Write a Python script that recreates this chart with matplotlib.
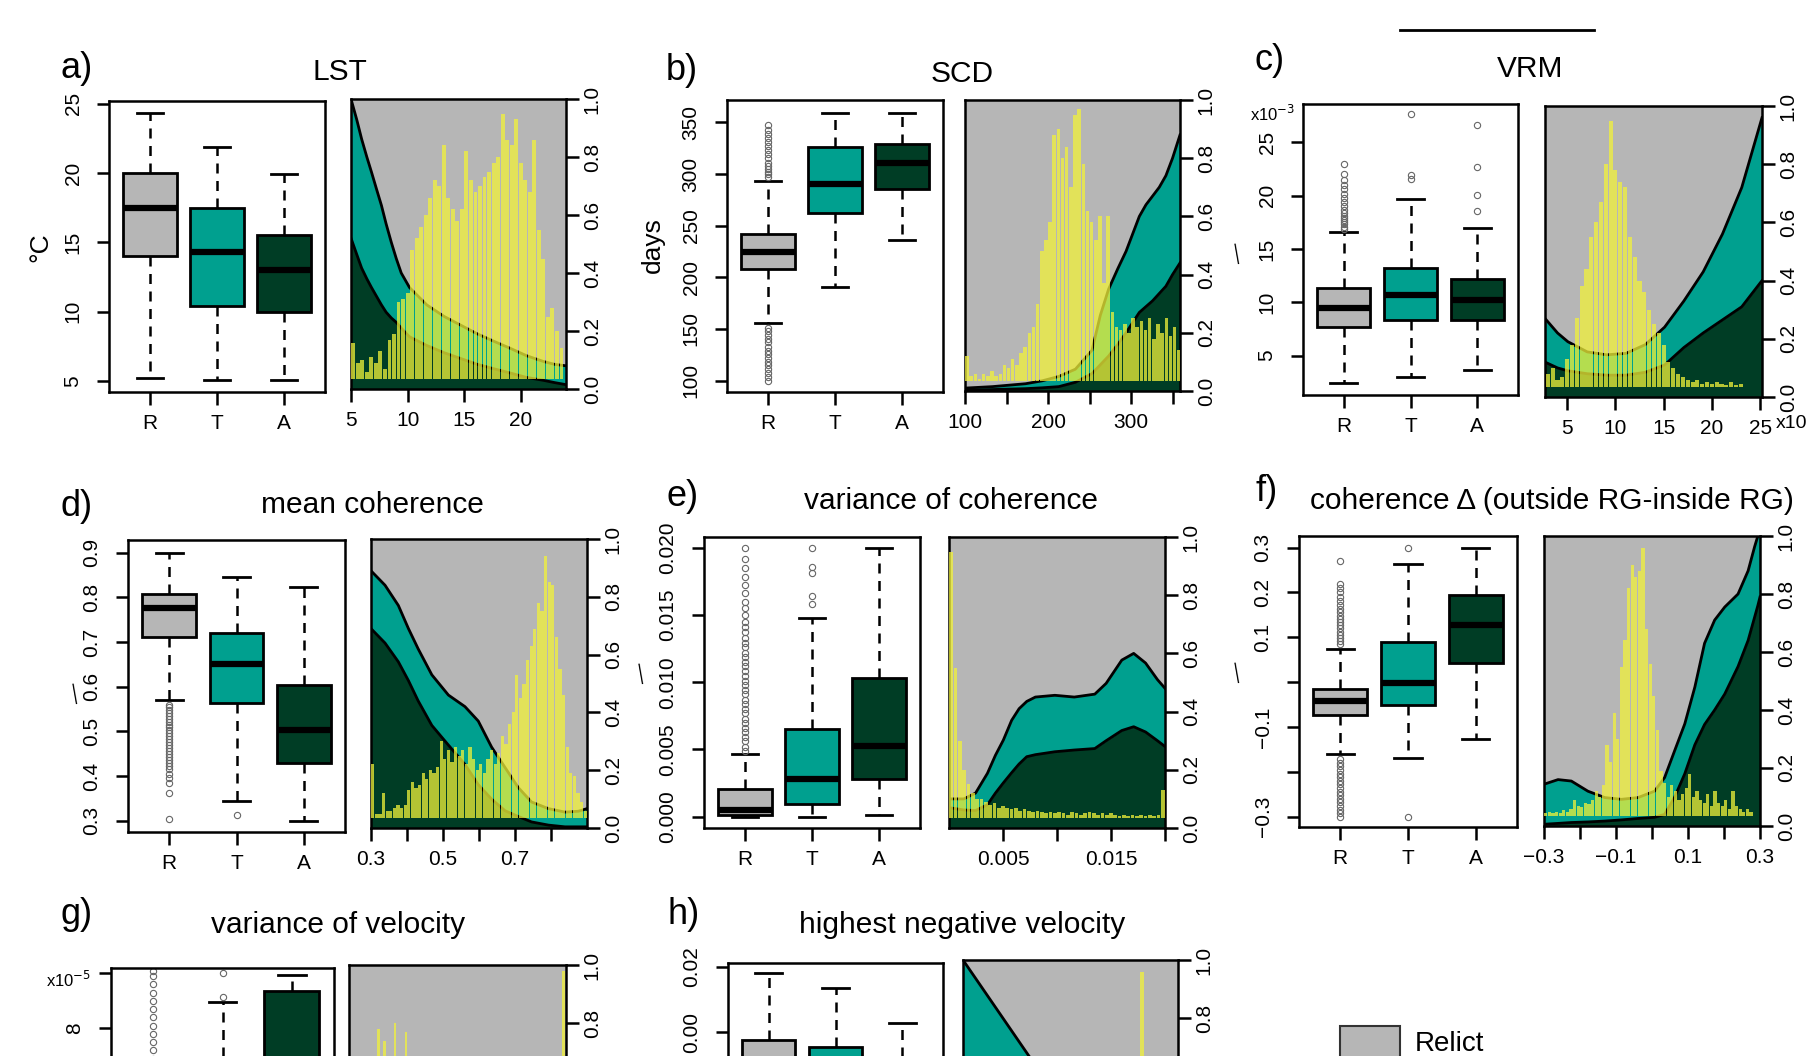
import numpy as np
import matplotlib
matplotlib.use('Agg')
import matplotlib.pyplot as plt
from matplotlib.patches import Rectangle
from matplotlib.lines import Line2D

plt.rcParams['font.family'] = ['Liberation Sans', 'DejaVu Sans']

# ---------------- data ----------------
GROUPS = ['R', 'T', 'A']

# box stats: [lower whisker, Q1, median, Q3, upper whisker] for R, T, A
lst_box = [[5.2, 14.0, 17.5, 20.0, 24.3], [5.1, 10.4, 14.3, 17.5, 21.9], [5.1, 10.0, 13.0, 15.5, 19.9]]
lst_out = [[], [], []]
scd_box = [[155.6, 207.8, 224.3, 242.3, 293.5], [190.4, 262.0, 290.3, 326.4, 358.7], [236.2, 285.5, 310.4, 329.0, 358.7]]
scd_out = [[100, 104, 107, 111, 115, 118, 122, 126, 129, 133, 137, 140, 144, 148, 151,
            297, 300, 302, 305, 308, 311, 315, 319, 323, 327, 331, 335, 339, 343, 347], [], []]
vrm_box = [[2.4, 7.7, 9.5, 11.3, 16.6], [3.0, 8.3, 10.7, 13.2, 19.7], [3.6, 8.3, 10.2, 12.2, 17.0]]
vrm_out = [[16.9, 17.1, 17.3, 17.5, 17.7, 17.9, 18.1, 18.4, 18.7, 19.0, 19.4, 19.8, 20.2, 20.6, 21.0, 21.5, 22.0, 23.0],
           [21.6, 21.9, 27.7], [18.6, 20.1, 22.7, 26.6]]
mcoh_box = [[0.57, 0.711, 0.775, 0.807, 0.9], [0.344, 0.563, 0.65, 0.721, 0.845], [0.3, 0.429, 0.502, 0.603, 0.823]]
mcoh_out = [[0.560, 0.554, 0.548, 0.541, 0.535, 0.528, 0.522, 0.515, 0.509, 0.502, 0.496, 0.489, 0.483, 0.476,
             0.470, 0.463, 0.457, 0.450, 0.443, 0.436, 0.430, 0.422, 0.415, 0.405, 0.396, 0.385, 0.362, 0.303],
            [0.312], []]
vcoh_box = [[0.0, 0.00013, 0.0005, 0.00204, 0.00466], [0.0, 0.00092, 0.00278, 0.00654, 0.01474],
            [0.0001, 0.00278, 0.00525, 0.01028, 0.020]]
vcoh_out = [[0.0049, 0.0052, 0.0056, 0.0059, 0.0063, 0.0066, 0.0070, 0.0073, 0.0077, 0.0080, 0.0084, 0.0087,
             0.0091, 0.0094, 0.0098, 0.0101, 0.0105, 0.0108, 0.0112, 0.0115, 0.0119, 0.0122, 0.0126, 0.0129,
             0.0133, 0.0137, 0.0141, 0.0145, 0.0150, 0.0155, 0.0160, 0.0166, 0.0172, 0.0178, 0.0185, 0.0192, 0.0200],
            [0.0158, 0.0164, 0.0181, 0.0186, 0.0200], []]
dcoh_box = [[-0.16, -0.073, -0.041, -0.015, 0.074], [-0.169, -0.052, -0.001, 0.0885, 0.263], [-0.126, 0.043, 0.128, 0.195, 0.30]]
dcoh_out = [[0.085, 0.092, 0.099, 0.106, 0.113, 0.120, 0.127, 0.134, 0.141, 0.148, 0.156, 0.164, 0.172, 0.181,
             0.190, 0.200, 0.210, 0.220, 0.270, -0.172, -0.180, -0.188, -0.196, -0.204, -0.212, -0.220, -0.228,
             -0.236, -0.244, -0.252, -0.260, -0.268, -0.276, -0.284, -0.292, -0.300],
            [0.300, -0.300], []]
vvel_box = [[0.0, 0.3, 0.8, 1.8, 4.0], [0.0, 2.0, 3.5, 5.5, 8.95], [0.5, 3.0, 5.5, 9.35, 9.93]]
vvel_out = [[5.5, 6.0, 6.3, 6.6, 6.9, 7.2, 7.5, 7.8, 8.1, 8.4, 8.7, 9.0, 9.3, 9.6, 9.9, 10.1], [9.16, 10.0], []]
hvel_box = [[-0.05, -0.02, -0.01, -0.0025, 0.018], [-0.055, -0.022, -0.012, -0.0046, 0.0135],
            [-0.06, -0.03, -0.02, -0.012, 0.0028]]
hvel_out = [[], [], []]

# conditional density: x grid, upper edge of active (A) and of transitional+active (T)
lst_x = [5.0, 5.5, 5.94, 6.4, 6.81, 7.25, 7.69, 8.1, 8.56, 9.0, 9.44, 10.17, 11.7, 13.24, 14.7, 16.17,
         17.6, 19.09, 20.5, 22.0, 23.0, 24.0]
lst_t = [1.0, 0.93, 0.862, 0.80, 0.748, 0.69, 0.633, 0.57, 0.506, 0.45, 0.40, 0.35, 0.29, 0.25, 0.22, 0.19,
         0.165, 0.14, 0.115, 0.095, 0.085, 0.08]
lst_a = [0.52, 0.465, 0.417, 0.38, 0.35, 0.32, 0.29, 0.265, 0.245, 0.23, 0.21, 0.18, 0.15, 0.125, 0.105, 0.085,
         0.07, 0.055, 0.04, 0.03, 0.022, 0.015]
scd_x = [100, 133, 173, 193, 213, 233, 253, 263, 273, 284, 294, 302, 310, 318, 326, 334, 342, 350, 359]
scd_t = [0.01, 0.015, 0.025, 0.035, 0.05, 0.075, 0.14, 0.26, 0.35, 0.42, 0.48, 0.54, 0.60, 0.64, 0.67, 0.70,
         0.74, 0.80, 0.88]
scd_a = [0.003, 0.005, 0.008, 0.011, 0.015, 0.03, 0.06, 0.09, 0.12, 0.16, 0.20, 0.235, 0.27, 0.29, 0.31, 0.335,
         0.36, 0.40, 0.44]
vrm_x = [2.7, 4.0, 5.07, 7.08, 9.09, 11.1, 13.1, 15.1, 17.1, 19.1, 21.1, 23.1, 25.2]
vrm_t = [0.27, 0.22, 0.19, 0.155, 0.145, 0.15, 0.18, 0.24, 0.33, 0.43, 0.56, 0.72, 0.96]
vrm_a = [0.12, 0.10, 0.09, 0.08, 0.075, 0.075, 0.085, 0.11, 0.17, 0.22, 0.265, 0.31, 0.40]
mcoh_x = [0.3, 0.339, 0.376, 0.404, 0.431, 0.469, 0.515, 0.561, 0.598, 0.635, 0.672, 0.709, 0.746, 0.793,
          0.839, 0.876, 0.9]
mcoh_t = [0.89, 0.84, 0.77, 0.69, 0.62, 0.53, 0.46, 0.42, 0.37, 0.28, 0.21, 0.14, 0.09, 0.067, 0.055, 0.058, 0.067]
mcoh_a = [0.69, 0.64, 0.575, 0.51, 0.44, 0.355, 0.287, 0.22, 0.15, 0.10, 0.06, 0.04, 0.021, 0.01, 0.004, 0.004, 0.004]
vcoh_x = [0.0, 0.00137, 0.00246, 0.00356, 0.0043, 0.00503, 0.0058, 0.00649, 0.0072, 0.0080, 0.0098, 0.0116,
          0.0135, 0.01455, 0.0160, 0.0171, 0.0182, 0.0193, 0.0200]
vcoh_t = [0.10, 0.10, 0.12, 0.188, 0.25, 0.302, 0.37, 0.41, 0.435, 0.45, 0.456, 0.45, 0.46, 0.497, 0.577, 0.60,
          0.567, 0.51, 0.48]
vcoh_a = [0.07, 0.062, 0.06, 0.08, 0.12, 0.155, 0.19, 0.22, 0.245, 0.252, 0.262, 0.268, 0.273, 0.30, 0.335,
          0.348, 0.33, 0.30, 0.28]
dcoh_x = [-0.3, -0.261, -0.224, -0.178, -0.131, -0.085, -0.039, 0.007, 0.035, 0.063, 0.091, 0.119, 0.146,
          0.174, 0.202, 0.239, 0.267, 0.285, 0.294, 0.3]
dcoh_t = [0.144, 0.16, 0.155, 0.12, 0.098, 0.092, 0.098, 0.12, 0.167, 0.26, 0.352, 0.479, 0.63, 0.71, 0.755,
          0.80, 0.88, 0.963, 1.0, 1.0]
dcoh_a = [0.006, 0.009, 0.012, 0.014, 0.017, 0.021, 0.026, 0.03, 0.04, 0.10, 0.18, 0.28, 0.35, 0.40, 0.455,
          0.55, 0.64, 0.72, 0.76, 0.79]
vvel_x = [0.0, 5.0, 10.0]
vvel_t = [0.45, 0.40, 0.50]
vvel_a = [0.25, 0.20, 0.30]
hvel_x = [-0.068, -0.0407, -0.02, 0.0, 0.021]
hvel_t = [1.0, 0.67, 0.45, 0.30, 0.25]
hvel_a = [0.5, 0.3, 0.2, 0.12, 0.1]

# histograms of the whole area: (first bin edge, bin width, bar tops)
lst_hist = (5.0, 0.4, [0.16, 0.09, 0.10, 0.06, 0.11, 0.09, 0.13, 0.07, 0.17, 0.19, 0.30, 0.31, 0.33, 0.48, 0.52,
                       0.56, 0.60, 0.66, 0.72, 0.70, 0.84, 0.66, 0.62, 0.58, 0.62, 0.82, 0.72, 0.68, 0.70, 0.73,
                       0.75, 0.78, 0.80, 0.95, 0.86, 0.84, 0.93, 0.78, 0.72, 0.68, 0.86, 0.55, 0.45, 0.25, 0.28,
                       0.20, 0.14])
scd_hist = (100, 5, [0.12, 0.05, 0.06, 0.04, 0.06, 0.05, 0.07, 0.05, 0.06, 0.09, 0.08, 0.11, 0.09, 0.13, 0.15,
                     0.20, 0.22, 0.30, 0.48, 0.52, 0.58, 0.88, 0.90, 0.80, 0.84, 0.70, 0.95, 0.97, 0.78, 0.62,
                     0.58, 0.52, 0.60, 0.37, 0.60, 0.27, 0.22, 0.21, 0.23, 0.20, 0.25, 0.22, 0.24, 0.21, 0.25,
                     0.18, 0.23, 0.20, 0.25, 0.19, 0.22, 0.14])
vrm_hist = (2.75, 0.5, [0.08, 0.10, 0.06, 0.07, 0.13, 0.18, 0.27, 0.38, 0.44, 0.55, 0.60, 0.67, 0.80, 0.95, 0.78,
                        0.74, 0.72, 0.55, 0.48, 0.40, 0.36, 0.30, 0.25, 0.22, 0.18, 0.12, 0.10, 0.08, 0.07, 0.06,
                        0.05, 0.06, 0.045, 0.05, 0.045, 0.05, 0.045, 0.04, 0.05, 0.04, 0.045])
mcoh_hist = (0.3, 0.01, [0.22, 0.05, 0.05, 0.12, 0.06, 0.06, 0.07, 0.08, 0.07, 0.08, 0.13, 0.16, 0.14, 0.15,
                         0.19, 0.17, 0.20, 0.19, 0.21, 0.30, 0.24, 0.27, 0.23, 0.28, 0.25, 0.27, 0.22, 0.28, 0.24,
                         0.20, 0.22, 0.19, 0.24, 0.27, 0.22, 0.26, 0.32, 0.29, 0.36, 0.40, 0.53, 0.45, 0.50, 0.58,
                         0.63, 0.69, 0.78, 0.75, 0.94, 0.85, 0.84, 0.66, 0.55, 0.46, 0.28, 0.19, 0.18, 0.12, 0.09,
                         0.06])
vcoh_hist = (0.0, 0.0004, [0.95, 0.55, 0.30, 0.20, 0.15, 0.12, 0.10, 0.10, 0.09, 0.08, 0.085, 0.07, 0.075, 0.07,
                           0.065, 0.07, 0.06, 0.065, 0.06, 0.055, 0.06, 0.055, 0.05, 0.055, 0.05, 0.055, 0.05,
                           0.045, 0.055, 0.05, 0.045, 0.05, 0.055, 0.05, 0.045, 0.05, 0.045, 0.05, 0.045, 0.04,
                           0.045, 0.04, 0.045, 0.04, 0.045, 0.04, 0.045, 0.04, 0.045, 0.13])
dcoh_hist = (-0.3, 0.01, [0.045, 0.05, 0.045, 0.05, 0.045, 0.055, 0.05, 0.06, 0.09, 0.07, 0.065, 0.08, 0.075,
                          0.09, 0.12, 0.10, 0.14, 0.28, 0.22, 0.39, 0.30, 0.55, 0.64, 0.82, 0.90, 0.86, 0.88,
                          0.96, 0.68, 0.56, 0.45, 0.33, 0.19, 0.15, 0.10, 0.14, 0.12, 0.09, 0.11, 0.13, 0.18,
                          0.10, 0.12, 0.09, 0.08, 0.11, 0.07, 0.12, 0.08, 0.07, 0.09, 0.06, 0.12, 0.07, 0.06,
                          0.05, 0.06, 0.05, 0.03, 0.03])
vvel_hist = (0.0, 0.25, [0.30, 0.45, 0.55, 0.60, 0.62, 0.78, 0.74, 0.66, 0.80, 0.65, 0.77, 0.55, 0.45, 0.38,
                         0.30, 0.25, 0.22, 0.18, 0.15, 0.13, 0.12, 0.10, 0.09, 0.08, 0.08, 0.07, 0.07, 0.06, 0.06,
                         0.06, 0.05, 0.05, 0.05, 0.05, 0.05, 0.05, 0.05, 0.05, 0.05, 0.98])
hvel_hist = (-0.068, 0.004, [0.05, 0.05, 0.06, 0.05, 0.06, 0.07, 0.06, 0.08, 0.09, 0.10, 0.12, 0.15, 0.20, 0.28,
                             0.40, 0.50, 0.55, 0.60, 0.96, 0.45, 0.20, 0.10])

# ---------------- style ----------------
W, H = 1807, 1056
GRAY = '#b6b6b6'
TEAL = '#00a08f'
DARK = '#003d25'
YELLOW = '#f2f23a'
BOX_COLORS = [GRAY, TEAL, DARK]
BASE = 0.035
MINUS = '\u2212'
DENS_TICKS = [0, 0.2, 0.4, 0.6, 0.8, 1.0]
DENS_LABELS = ['0.0', '0.2', '0.4', '0.6', '0.8', '1.0']

fig = plt.figure(figsize=(W / 100, H / 100), dpi=100)


def px_axes(left, top, right, bottom):
    return fig.add_axes([left / W, 1 - bottom / H, (right - left) / W, (bottom - top) / H])


def px_text(x, y, s, **kw):
    fig.text(x / W, 1 - y / H, s, **kw)


def style_axes(ax):
    for sp in ax.spines.values():
        sp.set_linewidth(1.8)
    ax.tick_params(direction='out', length=9, width=1.8, labelsize=15, pad=7)


def draw_box(ax, stats, fliers, ylim, yticks, yticklabels, xlabels=GROUPS):
    bxp_stats = []
    for name, s, f in zip(xlabels, stats, fliers):
        bxp_stats.append(dict(label=name, whislo=s[0], q1=s[1], med=s[2], q3=s[3], whishi=s[4], fliers=f))
    bp = ax.bxp(bxp_stats, positions=[1, 2, 3], widths=0.8, patch_artist=True,
                boxprops=dict(linewidth=2, edgecolor='black'),
                medianprops=dict(color='black', linewidth=4.5, solid_capstyle='butt'),
                whiskerprops=dict(color='black', linewidth=1.8, linestyle=(0, (4, 3))),
                capprops=dict(color='black', linewidth=2),
                flierprops=dict(marker='o', markersize=4.5, markerfacecolor='none',
                                markeredgecolor='#666666', markeredgewidth=0.8))
    for patch, c in zip(bp['boxes'], BOX_COLORS):
        patch.set_facecolor(c)
    ax.set_xlim(0.39, 3.61)
    ax.set_ylim(*ylim)
    ax.set_yticks(yticks, yticklabels)
    style_axes(ax)
    ax.tick_params(axis='y', labelrotation=90, pad=10)
    for lbl in ax.get_yticklabels():
        lbl.set_va('center')


def draw_density(ax, x, act, trans, hist, xlim, xticks, xticklabels, ylabels=DENS_LABELS, rwidth=0.85):
    x = np.array(x)
    act = np.array(act)
    trans = np.array(trans)
    ax.fill_between(x, 0, act, color=DARK, lw=0)
    ax.fill_between(x, act, trans, color=TEAL, lw=0)
    ax.fill_between(x, trans, 1, color=GRAY, lw=0)
    ax.plot(x, act, color='black', lw=2)
    ax.plot(x, trans, color='black', lw=2)
    left, width, tops = hist
    tops = np.array(tops)
    centers = left + width * (np.arange(len(tops)) + 0.5)
    ax.bar(centers, np.clip(tops - BASE, 0, None), bottom=BASE, width=width * rwidth,
           color=YELLOW, alpha=0.75, lw=0, zorder=3)
    ax.set_xlim(*xlim)
    ax.set_ylim(0, 1)
    ax.set_xticks(xticks, xticklabels)
    ax.yaxis.tick_right()
    ax.set_yticks(DENS_TICKS, ylabels)
    style_axes(ax)
    ax.tick_params(axis='y', labelrotation=90, pad=3)
    for lbl in ax.get_yticklabels():
        lbl.set_va('center')


# ---------------- row 1 ----------------
ax = px_axes(109, 101, 325, 392)
draw_box(ax, lst_box, lst_out, (4.2, 25.2), [5, 10, 15, 20, 25], ['5', '10', '15', '20', '25'])
ax = px_axes(351, 99, 566, 389)
draw_density(ax, lst_x, lst_a, lst_t, lst_hist, (5, 24), [5, 10, 15, 20], ['5', '10', '15', '20'])

ax = px_axes(727, 100, 943, 392)
draw_box(ax, scd_box, scd_out, (89, 371.6), [100, 150, 200, 250, 300, 350],
         ['100', '150', '200', '250', '300', '350'])
ax = px_axes(965, 100, 1180, 391)
draw_density(ax, scd_x, scd_a, scd_t, scd_hist, (100, 359), [100, 150, 200, 250, 300, 350],
             ['100', '', '200', '', '300', ''])

ax = px_axes(1303, 104, 1518, 395)
draw_box(ax, vrm_box, vrm_out, (1.3, 28.6), [5, 10, 15, 20, 25], ['5', '10', '15', '20', '25'])
ax = px_axes(1545, 106, 1762, 397)
draw_density(ax, vrm_x, vrm_a, vrm_t, vrm_hist, (2.7, 25.2), [5, 10, 15, 20, 25],
             ['5', '10', '15', '20', '25'])

# ---------------- row 2 ----------------
ax = px_axes(128, 540, 345, 832)
draw_box(ax, mcoh_box, mcoh_out, (0.275, 0.928), [0.3, 0.4, 0.5, 0.6, 0.7, 0.8, 0.9],
         ['0.3', '0.4', '0.5', '0.6', '0.7', '0.8', '0.9'])
ax = px_axes(371, 539, 587, 828)
draw_density(ax, mcoh_x, mcoh_a, mcoh_t, mcoh_hist, (0.3, 0.9), [0.3, 0.4, 0.5, 0.6, 0.7, 0.8],
             ['0.3', '', '0.5', '', '0.7', ''])

ax = px_axes(704, 537, 920, 828)
draw_box(ax, vcoh_box, vcoh_out, (-0.00084, 0.0208), [0, 0.005, 0.01, 0.015, 0.02],
         ['0.000', '0.005', '0.010', '0.015', '0.020'])
ax = px_axes(949, 537, 1165, 828)
draw_density(ax, vcoh_x, vcoh_a, vcoh_t, vcoh_hist, (0, 0.02), [0.005, 0.01, 0.015, 0.02],
             ['0.005', '', '0.015', ''])

ax = px_axes(1299, 536, 1517, 827)
draw_box(ax, dcoh_box, dcoh_out, (-0.323, 0.326), [-0.3, -0.2, -0.1, 0, 0.1, 0.2, 0.3],
         [MINUS + '0.3', '', MINUS + '0.1', '', '0.1', '0.2', '0.3'])
ax = px_axes(1544, 536, 1760, 826)
draw_density(ax, dcoh_x, dcoh_a, dcoh_t, dcoh_hist, (-0.3, 0.3), [-0.3, -0.2, -0.1, 0, 0.1, 0.2, 0.3],
             [MINUS + '0.3', '', MINUS + '0.1', '', '0.1', '', '0.3'])

# ---------------- row 3 (cut by the page edge: only the visible labels are written) ----------------
ax = px_axes(111, 968, 334, 1259)
draw_box(ax, vvel_box, vvel_out, (-0.4, 10.2), [0, 2, 4, 6, 8, 10], ['', '', '', '', '8', ''],
         xlabels=['', '', ''])
ax = px_axes(349, 965, 566, 1256)
draw_density(ax, vvel_x, vvel_a, vvel_t, vvel_hist, (0, 10), [0, 2, 4, 6, 8, 10], [''] * 6,
             ylabels=['', '', '', '', '0.8', '1.0'], rwidth=0.5)

ax = px_axes(728, 963, 943, 1254)
draw_box(ax, hvel_box, hvel_out, (-0.068, 0.0212), [-0.06, -0.04, -0.02, 0, 0.02],
         ['', '', '', '0.00', '0.02'], xlabels=['', '', ''])
ax = px_axes(963, 960, 1178, 1251)
draw_density(ax, hvel_x, hvel_a, hvel_t, hvel_hist, (-0.068, 0.021), [-0.06, -0.04, -0.02, 0, 0.02],
             [''] * 5, ylabels=['', '', '', '', '0.8', '1.0'], rwidth=0.4)

# ---------------- titles, letters, axis labels ----------------
letters = [('a)', 60, 68), ('b)', 666, 70), ('c)', 1254, 60), ('d)', 60, 507),
           ('e)', 666, 496), ('f)', 1256, 492), ('g)', 60, 915), ('h)', 668, 915)]
for s, x, y in letters:
    px_text(x, y, s, fontsize=26, ha='left', va='center')

titles = [('LST', 340, 72), ('SCD', 962, 74), ('VRM', 1530, 69), ('mean coherence', 372, 505),
          ('variance of coherence', 951, 501), ('coherence \u0394 (outside RG-inside RG)', 1552, 501),
          ('variance of velocity', 338, 925), ('highest negative velocity', 962, 925)]
for s, x, y in titles:
    px_text(x, y, s, fontsize=21.5, ha='center', va='center')

px_text(40, 247, '\u00b0C', fontsize=19, ha='center', va='center', rotation=90)
px_text(653, 245, 'days', fontsize=19, ha='center', va='center', rotation=90)
for x, y in [(1237, 253), (75, 693), (641, 673), (1237, 672)]:
    px_text(x, y, '\u2014', fontsize=15, ha='center', va='center', rotation=100)

px_text(1250, 114, 'x10$^{-3}$', fontsize=12, ha='left', va='center')
px_text(46, 980, 'x10$^{-5}$', fontsize=12, ha='left', va='center')
# the exponent of this label falls beyond the page edge in the original
px_text(1776, 424, 'x10', fontsize=14, ha='left', va='center')

# short rule above panel c and legend key
fig.add_artist(Line2D([1400 / W, 1594 / W], [1 - 30 / H, 1 - 30 / H], color='black', lw=2))
fig.add_artist(Rectangle((1340 / W, 1 - 1070 / H), 60 / W, 44 / H, transform=fig.transFigure,
                         facecolor=GRAY, edgecolor='#333333', lw=1.5))
px_text(1415, 1044, 'Relict', fontsize=20, ha='left', va='center')

fig.savefig('out.png', dpi=100)
